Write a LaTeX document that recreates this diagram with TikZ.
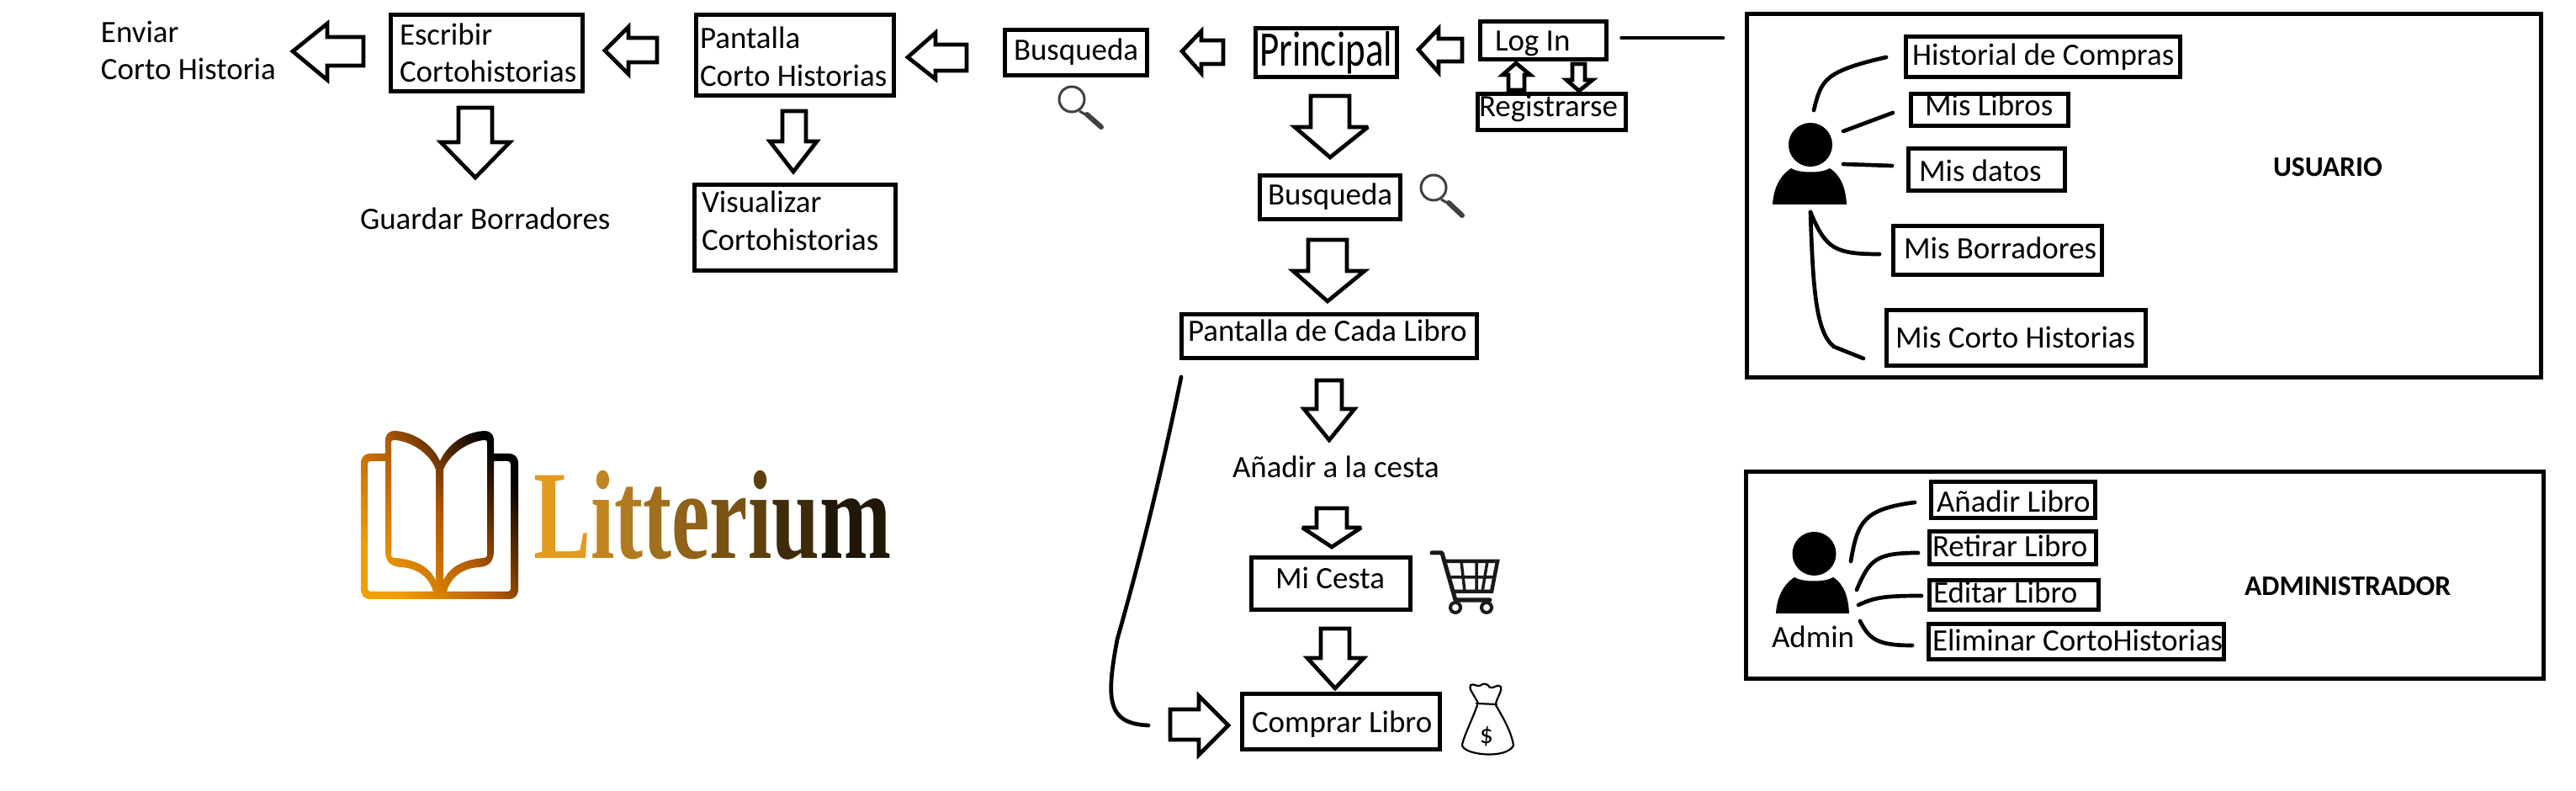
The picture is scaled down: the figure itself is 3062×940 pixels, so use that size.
\documentclass[tikz,border=0pt]{standalone}
\usepackage{fontspec}
\setmainfont{Carlito}
\newfontfamily\logofont{Liberation Serif}
\usetikzlibrary{calc}
\newcommand{\bx}[5]{\node[boxn,minimum width={(#4-#2-5)*0.01cm},minimum height={(#5-#3-5)*0.01cm}] (#1) at ({(#2+#4)/2},{(#3+#5)/2}) {};}
\newcommand{\tx}[4]{\node[txt] (#1) at (#2,#3+1) {#4};}
\begin{document}
\begin{tikzpicture}[x=0.01cm,y=-0.01cm,
  every node/.style={font=\fontsize{10.5}{12}\selectfont},
  boxn/.style={draw=black,line width=0.05cm,inner sep=0pt,outer sep=0pt,fill=none},
  txt/.style={anchor=base west,inner sep=0pt,outer sep=0pt},
  btxt/.style={anchor=base west,inner sep=0pt,outer sep=0pt,font=\fontsize{9.55}{12}\selectfont\bfseries},
  blockarrow/.style={draw=black,fill=white,line width=0.047cm,line join=miter,miter limit=3},
  wire/.style={draw=black,line width=0.047cm,line cap=round,fill=none},
  lens/.style={draw=black!75,line width=0.03cm,fill=none},
  lenshandle/.style={draw=black!75,line width=0.06cm,line cap=round},
  person/.style={fill=black,draw=none},
  thinink/.style={draw=black,line width=0.022cm,fill=none,line join=round,line cap=round}]
\useasboundingbox (0,0) rectangle (3062,940);
\fill[white] (0,0) rectangle (3062,940);

% boxes
\bx{escribir}{462}{15}{695}{111}
\bx{pantallaCH}{825}{15}{1065}{116}
\bx{visualizar}{823}{217}{1067}{324}
\bx{busquedaA}{1192}{33}{1366}{92}
\bx{principal}{1490}{31}{1663}{94}
\bx{login}{1757}{23}{1912}{73}
\bx{registrarse}{1754}{109}{1935}{157}
\bx{busquedaB}{1495}{206}{1667}{263}
\bx{pantallaCL}{1402}{371}{1758}{428}
\bx{micesta}{1485}{660}{1679}{727}
\bx{comprar}{1474}{822}{1714}{893}
\bx{usuarioframe}{2074}{14}{3023}{451}
\bx{historial}{2263}{41}{2594}{94}
\bx{mislibros}{2269}{109}{2461}{152}
\bx{misdatos}{2266}{174}{2457}{229}
\bx{misborradores}{2248}{266}{2501}{329}
\bx{miscorto}{2240}{366}{2553}{437}
\bx{adminframe}{2073}{558}{3026}{809}
\bx{anadir}{2293}{570}{2493}{618}
\bx{retirar}{2291}{629}{2494}{673}
\bx{editar}{2291}{687}{2497}{727}
\bx{eliminar}{2290}{739}{2646}{786}

% texts
\tx{enviar1}{120}{50}{Enviar}
\tx{enviar2}{120}{94}{Corto Historia}
\tx{escribir1}{475}{53}{Escribir}
\tx{escribir2}{475}{97}{Cortohistorias}
\tx{pantalla1}{832}{57}{Pantalla}
\tx{pantalla2}{832}{102}{Corto Historias}
\tx{visual1}{834}{252}{Visualizar}
\tx{visual2}{834}{297}{Cortohistorias}
\tx{guardar}{428}{272}{Guardar Borradores}
\tx{busqA}{1205}{71}{Busqueda}
\tx{princ}{1497}{78}{\scalebox{1.22}[1.6]{Principal}}
\tx{logintx}{1777}{60}{Log In}
\tx{regtx}{1758}{138}{Registrarse}
\tx{busqB}{1507}{243}{Busqueda}
\tx{cadalibro}{1412}{405}{Pantalla de Cada Libro}
\tx{anadirces}{1465}{567}{Añadir a la cesta}
\tx{cestatx}{1516}{699}{Mi Cesta}
\tx{comprartx}{1488}{869}{Comprar Libro}
\tx{histx}{2273}{77}{Historial de Compras}
\tx{libtx}{2288}{137}{Mis Libros}
\tx{dattx}{2281}{215}{Mis datos}
\tx{bortx}{2263}{307}{Mis Borradores}
\tx{cortx}{2253}{413}{Mis Corto Historias}
\node[btxt] (usuario) at (2702,210) {USUARIO};
\tx{anatx}{2302}{608}{Añadir Libro}
\tx{rettx}{2297}{661}{Retirar Libro}
\tx{edtx}{2298}{716}{Editar Libro}
\tx{elitx}{2297}{773}{Eliminar CortoHistorias}
\node[btxt] (administrador) at (2668,708) {ADMINISTRADOR};
\tx{admintx}{2106}{769}{Admin}

% block arrows: left
\draw[blockarrow] (348,61)--(389,28)--(389,44)--(432,44)--(432,78)--(389,78)--(389,95)--cycle;
\draw[blockarrow] (719,60)--(747,32)--(747,45)--(781,45)--(781,74)--(747,74)--(747,88)--cycle;
\draw[blockarrow] (1079,68)--(1112,39)--(1112,53)--(1149,53)--(1149,84)--(1112,84)--(1112,94)--cycle;
\draw[blockarrow] (1405,61)--(1428,37)--(1428,48)--(1454,48)--(1454,76)--(1428,76)--(1428,87)--cycle;
\draw[blockarrow] (1686,59)--(1710,34)--(1710,46)--(1738,46)--(1738,73)--(1710,73)--(1710,86)--cycle;
% block arrows: down
\draw[blockarrow] (565,211)--(524,169)--(545,169)--(545,128)--(585,128)--(585,169)--(606,169)--cycle;
\draw[blockarrow] (943,204)--(915,168)--(930,168)--(930,132)--(958,132)--(958,168)--(971,168)--cycle;
\draw[blockarrow] (1581,187)--(1539,151)--(1558,151)--(1558,114)--(1604,114)--(1604,151)--(1626,151)--cycle;
\draw[blockarrow] (1578,358)--(1537,322)--(1555,322)--(1555,285)--(1601,285)--(1601,322)--(1622,322)--cycle;
\draw[blockarrow] (1580,523)--(1550,486)--(1565,486)--(1565,452)--(1595,452)--(1595,486)--(1610,486)--cycle;
\draw[blockarrow] (1583,650)--(1548,627)--(1565,627)--(1565,604)--(1601,604)--(1601,627)--(1618,627)--cycle;
\draw[blockarrow] (1587,818)--(1554,782)--(1570,782)--(1570,747)--(1604,747)--(1604,782)--(1621,782)--cycle;
\draw[blockarrow] (1877,108)--(1862,95)--(1869,95)--(1869,76)--(1884,76)--(1884,95)--(1893,95)--cycle;
% block arrows: up, right
\draw[blockarrow] (1802,75)--(1786,89)--(1793,89)--(1793,107)--(1812,107)--(1812,89)--(1819,89)--cycle;
\draw[blockarrow] (1460,862)--(1425,827)--(1425,843)--(1391,843)--(1391,879)--(1425,879)--(1425,897)--cycle;

% free connectors
\coordinate (loginEnd) at (2048,45);
\draw[wire] ($(login.east)+(18,-3)$) -- (loginEnd);
\coordinate (buyA) at (1404,448);
\coordinate (buyB) at (1365,862);
\draw[wire] (buyA) .. controls (1375,590) and (1345,700) .. (1328,760) .. controls (1315,830) and (1315,860) .. (buyB);

% magnifiers
\draw[lens] (1274,118) ellipse (15 and 15);
\draw[lens] (1283,132) -- (1292,137);
\draw[lenshandle] (1292,136) -- (1309,151);
\draw[lens] (1704,223) ellipse (15 and 15);
\draw[lens] (1713,237) -- (1722,242);
\draw[lenshandle] (1722,241) -- (1738,256);

% user figure
\fill[person] (2152,172) ellipse (26 and 26);
\fill[person] (2107,243) .. controls (2108,225) and (2115,209) .. (2129,200) .. controls (2138,206) and (2166,206) .. (2175,200) .. controls (2189,209) and (2194,225) .. (2195,243) -- cycle;
\coordinate (ua1) at (2156,131); \coordinate (ub1) at (2242,68);
\coordinate (ua2) at (2191,156); \coordinate (ub2) at (2250,134);
\coordinate (ua3) at (2191,195); \coordinate (ub3) at (2249,197);
\coordinate (ua4) at (2152,252); \coordinate (ub4) at (2234,302);
\coordinate (ub5) at (2215,426);
\draw[wire] (ua1) .. controls (2165,95) and (2168,85) .. (ub1);
\draw[wire] (ua2) -- (ub2);
\draw[wire] (ua3) -- (ub3);
\draw[wire] (ua4) .. controls (2170,295) and (2180,302) .. (ub4);
\draw[wire] (ua4) .. controls (2155,340) and (2158,395) .. (2180,412) -- (ub5);

% admin figure
\fill[person] (2156.5,658) ellipse (26 and 26);
\fill[person] (2111,729) .. controls (2112,711) and (2119,695) .. (2133,686) .. controls (2142,692) and (2170,692) .. (2179,686) .. controls (2193,695) and (2197,711) .. (2198,729) -- cycle;
\coordinate (aa1) at (2200,667); \coordinate (ab1) at (2276,597);
\coordinate (aa2) at (2207,701); \coordinate (ab2) at (2280,657);
\coordinate (aa3) at (2209,719); \coordinate (ab3) at (2284,708);
\coordinate (aa4) at (2211,738); \coordinate (ab4) at (2273,767);
\draw[wire] (aa1) .. controls (2208,620) and (2215,605) .. (ab1);
\draw[wire] (aa2) .. controls (2222,665) and (2230,657) .. (ab2);
\draw[wire] (aa3) .. controls (2228,710) and (2240,708) .. (ab3);
\draw[wire] (aa4) .. controls (2222,760) and (2232,767) .. (ab4);

% cart
\draw[line width=0.05cm,line cap=round,line join=round,draw=black!90] (1702,657) -- (1714,657) -- (1730,713) -- (1771,713);
\draw[line width=0.045cm,draw=black!90,line join=miter] (1717,667) -- (1780,667) -- (1773,703) -- (1727,703);
\draw[line width=0.035cm,draw=black!90] (1721,686) -- (1776,686) (1737,667) -- (1741,703) (1755,667) -- (1755,703) (1768,667) -- (1762,703);
\draw[line width=0.04cm,draw=black!90] (1730,722) circle (6) (1767,722) circle (6);

% money bag
\draw[thinink] (1757,836) .. controls (1752,825) and (1745,818) .. (1748,814) .. controls (1752,812) and (1755,816) .. (1759,815) .. controls (1763,812) and (1767,811) .. (1771,817) .. controls (1775,819) and (1780,812) .. (1784,816) .. controls (1786,820) and (1780,828) .. (1778,836);
\draw[thinink] (1755,836) -- (1779,837);
\draw[thinink] (1756,838) .. controls (1750,855) and (1740,875) .. (1738,885) .. controls (1738,897) and (1790,903) .. (1799,886) .. controls (1797,870) and (1785,850) .. (1778,838);
\node[inner sep=0pt,font=\fontsize{9}{10}\selectfont] (dollar) at (1767,875) {\$};

% logo
\shade[even odd rule,bottom color=orange!70!yellow!95!black,top color=black,middle color=orange!70!black,shading angle=-55]
  (458,539) -- (441,539) .. controls (433,539) and (429,543) .. (429,551) -- (429,700) .. controls (429,708) and (433,712) .. (441,712) -- (604,712) .. controls (612,712) and (616,708) .. (616,700) -- (616,551) .. controls (616,543) and (612,539) .. (604,539) -- (587,539) -- (587,548) -- (603,548) .. controls (606,548) and (607,549) .. (607,552) -- (607,699) .. controls (607,702) and (606,703) .. (603,703) -- (441,703) .. controls (438,703) and (437,702) .. (437,699) -- (437,552) .. controls (437,549) and (438,548) .. (441,548) -- (458,548) -- cycle
  (458,524) .. controls (458,516) and (462,512) .. (470,512) .. controls (495,514) and (515,530) .. (523,548) .. controls (531,530) and (550,514) .. (575,512) .. controls (583,512) and (587,516) .. (587,524) -- (587,655) .. controls (587,665) and (583,673) .. (570,674) .. controls (548,675) and (535,688) .. (531,703) -- (515,703) .. controls (511,688) and (498,675) .. (476,674) .. controls (462,673) and (458,665) .. (458,655) -- cycle
  (465,527) .. controls (465,523) and (466,523) .. (470,523) .. controls (490,525) and (512,540) .. (518,558) -- (518,690) .. controls (510,672) and (492,665) .. (470,663) .. controls (466,663) and (465,662) .. (465,658) -- cycle
  (527,558) .. controls (534,540) and (556,525) .. (575,523) .. controls (579,523) and (579,524) .. (579,527) -- (579,658) .. controls (579,662) and (578,663) .. (575,663) .. controls (553,665) and (535,672) .. (527,690) -- cycle;
\node[txt,font=\fontsize{42.7}{44}\logofont\bfseries] (litterium) at (634,664) {\scalebox{0.68}[1]{\textcolor[HTML]{E19B1F}{L}\textcolor[HTML]{C08420}{i}\textcolor[HTML]{B07A20}{t}\textcolor[HTML]{A06E1C}{t}\textcolor[HTML]{8F6119}{e}\textcolor[HTML]{7A5214}{r}\textcolor[HTML]{5E400F}{i}\textcolor[HTML]{3F2B0A}{u}\textcolor[HTML]{211706}{m}}};
\end{tikzpicture}
\end{document}
